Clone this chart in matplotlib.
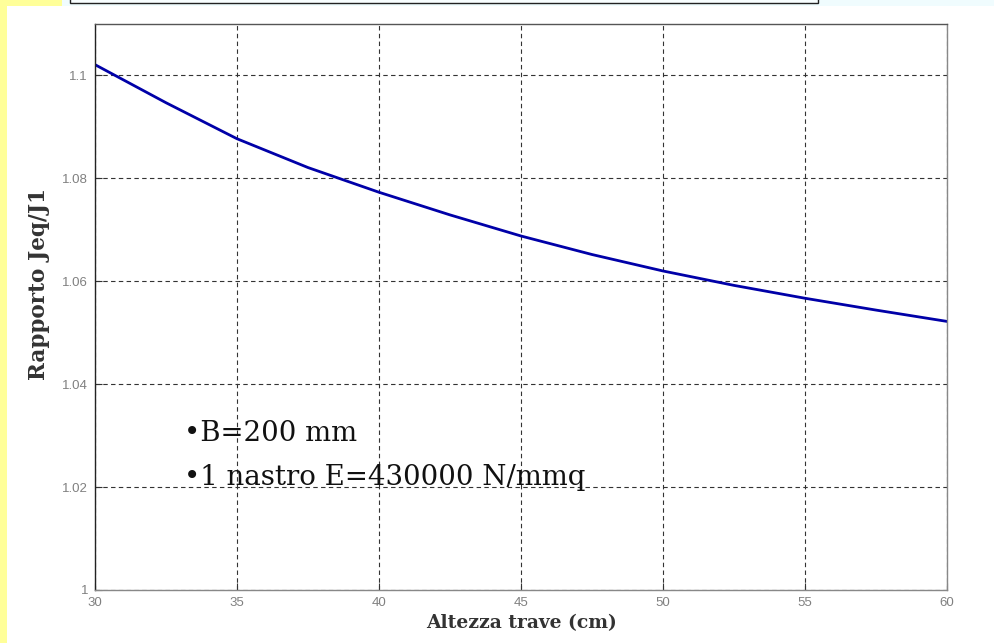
import matplotlib
matplotlib.use("Agg")
import matplotlib.pyplot as plt
from matplotlib.patches import Rectangle

# Beam height (cm) and ratio Jeq/J1
altezza = [30, 32.5, 35, 37.5, 40, 42.5, 45, 47.5, 50, 52.5, 55, 57.5, 60]
rapporto = [1.1021, 1.0947, 1.0877, 1.0821, 1.0773, 1.0729, 1.0688,
            1.0652, 1.0620, 1.0592, 1.0567, 1.0544, 1.0522]

xticks = [30, 35, 40, 45, 50, 55, 60]
yticks = [1.0, 1.02, 1.04, 1.06, 1.08, 1.1]
ytick_labels = ["1", "1.02", "1.04", "1.06", "1.08", "1.1"]

W, H = 994, 643
fig = plt.figure(figsize=(W / 100, H / 100), dpi=100)
fig.patch.set_facecolor("white")

# Slide decorations: yellow side strip, light cyan top band and title box edge
def fig_rect(x0, y0, w, h, **kw):
    fig.patches.append(Rectangle((x0 / W, 1 - (y0 + h) / H), w / W, h / H,
                                 transform=fig.transFigure, **kw))

fig_rect(0, 0, 7, H, facecolor="#FFFF99", edgecolor="none")
fig_rect(0, 0, 62, 6, facecolor="#FFFF99", edgecolor="none")
fig_rect(62, 0, W - 62, 6, facecolor="#F0FCFE", edgecolor="none")
fig_rect(70, -10, 748, 13, facecolor="#F8FEFF", edgecolor="#222222", linewidth=1.0)

left, right, top, bottom = 95, 947, 24, 590
ax = fig.add_axes([left / W, 1 - bottom / H, (right - left) / W, (bottom - top) / H])

ax.plot(altezza, rapporto, color="#0000A8", linewidth=2.0)

ax.set_xlim(30, 60)
ax.set_ylim(1.0, 1.11)
ax.set_xticks(xticks)
ax.set_yticks(yticks)
ax.set_yticklabels(ytick_labels)

ax.grid(True, color="#333333", linestyle=(0, (4, 3)), linewidth=0.8)
ax.tick_params(direction="in", length=5, width=0.8, colors="#333333",
               labelcolor="#808080", labelsize=9.5, pad=5)
for lab in ax.get_xticklabels() + ax.get_yticklabels():
    lab.set_fontfamily("Liberation Sans")

ax.spines["left"].set_color("#222222")
ax.spines["top"].set_color("#555555")
ax.spines["bottom"].set_color("#888888")
ax.spines["right"].set_color("#888888")
for s in ax.spines.values():
    s.set_linewidth(1.0)

# Axis titles placed in figure pixels
fig.text(521 / W, 1 - 628 / H, "Altezza trave (cm)", fontfamily="DejaVu Serif",
         fontweight="bold", fontsize=13.5, color="#333333",
         ha="center", va="baseline")
fig.text(39 / W, 1 - 284 / H, "Rapporto Jeq/J1", fontfamily="DejaVu Serif",
         fontweight="bold", fontsize=15.5, color="#333333",
         ha="center", va="center", rotation=90)

ax.text(33.15, 1.0290, "\u2022B=200 mm", fontfamily="DejaVu Serif",
        fontsize=19.9, color="#111111", va="baseline")
ax.text(33.15, 1.0205, "\u20221 nastro E=430000 N/mmq", fontfamily="DejaVu Serif",
        fontsize=19.9, color="#111111", va="baseline")

fig.savefig("out.png", dpi=100, facecolor=fig.get_facecolor())
